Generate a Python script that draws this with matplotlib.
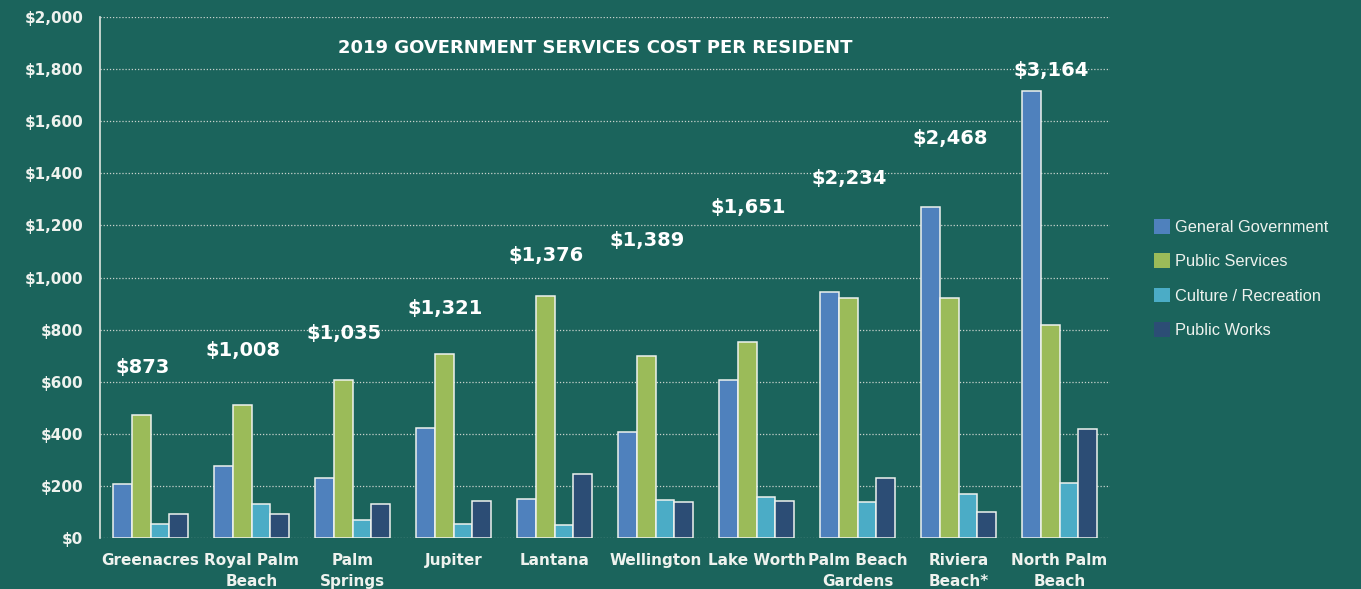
import matplotlib.pyplot as plt
import numpy as np

# cost per resident by city, 2019
cities = ['Greenacres', 'Royal Palm\nBeach', 'Palm\nSprings', 'Jupiter', 'Lantana',
          'Wellington', 'Lake Worth', 'Palm Beach\nGardens', 'Riviera\nBeach*', 'North Palm\nBeach']
general_gov = [208, 276, 230, 422, 150, 407, 606, 944, 1271, 1716]
public_services = [472, 511, 606, 707, 929, 699, 752, 921, 921, 819]
culture_rec = [54, 130, 69, 54, 50, 146, 157, 138, 169, 211]
public_works = [92, 92, 130, 142, 246, 138, 142, 230, 100, 418]
totals = ['$873', '$1,008', '$1,035', '$1,321', '$1,376', '$1,389', '$1,651', '$2,234', '$2,468', '$3,164']
# height where each total label sits (in $ units)
total_label_y = [656, 718, 787, 883, 1086, 1144, 1270, 1382, 1535, 1793]

series = [general_gov, public_services, culture_rec, public_works]
names = ['General Government', 'Public Services', 'Culture / Recreation', 'Public Works']
colors = ['#4f81bd', '#9bbb59', '#4bacc6', '#2c4d75']

bg = '#1b645c'
txt = '#eef2ee'

fig = plt.figure(figsize=(13.61, 5.89), dpi=100, facecolor=bg)
ax = fig.add_axes([0.0735, 0.0866, 0.7421, 0.8844], facecolor=bg)

x = np.arange(len(cities))
w = 0.186
for i, (vals, c, n) in enumerate(zip(series, colors, names)):
    ax.bar(x + (i - 1.5) * w, vals, w, color=c, edgecolor='#eef2ee', linewidth=1.1,
           label=n, zorder=3)

for xi, t, ty in zip(x, totals, total_label_y):
    ax.text(xi - 0.08, ty, t, ha='center', va='center', color='white',
            fontsize=14, fontweight='bold', zorder=4)

ax.set_xlim(-0.5, len(cities) - 0.5)
ax.set_ylim(0, 2000)
ax.set_yticks(range(0, 2001, 200))
ax.set_yticklabels(['${:,}'.format(v) for v in range(0, 2001, 200)])
ax.set_xticks(x)
ax.set_xticklabels(cities, linespacing=1.45)
ax.tick_params(length=0, colors=txt, labelsize=11)
ax.tick_params(axis='y', pad=12)
ax.tick_params(axis='x', pad=11)
for lab in ax.get_xticklabels() + ax.get_yticklabels():
    lab.set_fontweight('bold')
    lab.set_color(txt)

ax.grid(axis='y', color='#c8d2cc', linestyle=(0, (1, 1.5)), linewidth=0.9, zorder=0)
ax.set_axisbelow(True)
for s in ['top', 'right', 'bottom']:
    ax.spines[s].set_visible(False)
ax.spines['left'].set_color('#dfe6e0')
ax.spines['left'].set_linewidth(1.2)

ax.set_title('2019 GOVERNMENT SERVICES COST PER RESIDENT', color='white',
             fontsize=13, fontweight='heavy', y=0.915, x=0.49)

leg = fig.legend(loc='center left', bbox_to_anchor=(0.837, 0.527), frameon=False,
                 handlelength=1.0, handleheight=1.0, handletextpad=0.3,
                 labelspacing=1.12, prop={'family': 'Liberation Sans', 'size': 11.8})
for t in leg.get_texts():
    t.set_color(txt)
for h in leg.legend_handles:
    h.set_edgecolor('none')

fig.savefig('out.png', dpi=100, facecolor=bg)
